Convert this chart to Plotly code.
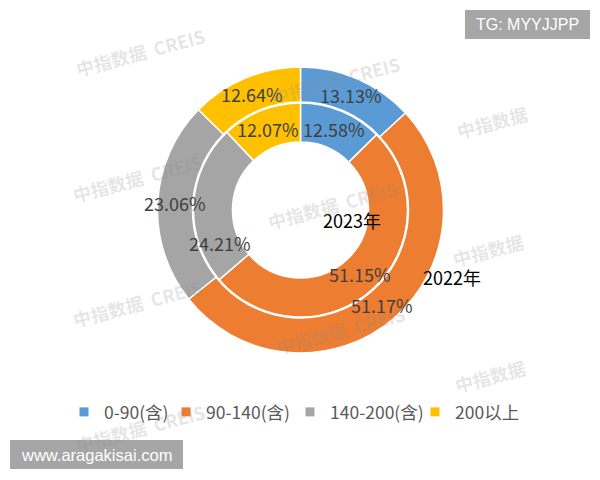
import numpy as np
import plotly.graph_objects as go

# ---------------- data ----------------
categories = ["0-90(含)", "90-140(含)", "140-200(含)", "200以上"]
values_2022 = [13.13, 51.17, 23.06, 12.64]   # outer ring
values_2023 = [12.58, 51.15, 24.21, 12.07]   # inner ring
series_names = ["2022年", "2023年"]
colors = ["#5B9BD5", "#ED7D31", "#A5A5A5", "#FFC000"]

# ---------------- layout geometry (pixels) ----------------
W, H = 600, 480
CX, CY = 300.5, 210.0
R_OUT, HOLE_OUT = 143.0, 108.0
R_IN, HOLE_IN = 107.0, 68.0


def px2paper(px, py):
    return px / W, 1 - py / H


def domain(r):
    cx, cy = px2paper(CX, CY)
    return dict(x=[cx - r / W, cx + r / W], y=[cy - r / H, cy + r / H])


fig = go.Figure()

for vals, r, hole, name in [(values_2022, R_OUT, HOLE_OUT, series_names[0]),
                            (values_2023, R_IN, HOLE_IN, series_names[1])]:
    fig.add_trace(go.Pie(
        labels=categories, values=vals, name=name,
        domain=domain(r), hole=hole / r,
        sort=False, direction="clockwise", rotation=0,
        marker=dict(colors=colors, line=dict(color="white", width=1.5)),
        textinfo="none", hoverinfo="label+value", showlegend=False,
    ))

# legend via dummy traces (square swatches)
legend_widths = [57, 79, 80, 70]
for cat, col, lw in zip(categories, colors, legend_widths):
    fig.add_trace(go.Scatter(
        x=[None], y=[None], mode="markers", name=cat,
        marker=dict(symbol="square", size=9, color=col),
        legendwidth=lw, showlegend=True, hoverinfo="skip",
    ))

CENTER = dict(xanchor="center", yanchor="middle", xref="paper", yref="paper",
              showarrow=False)

# percentage labels placed at slice centroids (computed from data)
label_angle_override = {(1, 2): 247.6}   # 24.21% label moved by hand in original
annotations = []
for ring, (vals, r0, r1) in enumerate([(values_2022, HOLE_OUT, R_OUT),
                                       (values_2023, HOLE_IN, R_IN)]):
    v = np.array(vals, dtype=float)
    frac = v / v.sum()
    ends = np.cumsum(frac) * 360
    starts = ends - frac * 360
    mids = (starts + ends) / 2
    rm = (r0 + r1) / 2
    for i, val in enumerate(vals):
        ang = label_angle_override.get((ring, i), mids[i])
        th = np.deg2rad(ang)
        px = CX + rm * np.sin(th)
        py = CY - rm * np.cos(th)
        x, y = px2paper(px, py)
        annotations.append(dict(
            x=x, y=y, text=f"{val:.2f}%",
            font=dict(family="Noto Sans CJK SC", size=18, color="#404040"),
            **CENTER))

# series name labels
for name, (px, py) in zip(series_names, [(452, 277), (352, 220)]):
    x, y = px2paper(px, py)
    annotations.append(dict(x=x, y=y, text=name,
                            font=dict(family="Noto Sans CJK SC", size=18, color="#000000"),
                            **CENTER))

# watermarks
wm_color = "rgba(140,140,140,0.22)"
wm_full = [(140, 52), (137, 178), (137, 303), (140, 428), (335, 80), (332, 205), (340, 330)]
wm_short = [(492, 122), (488, 250), (490, 376)]
for (px, py) in wm_full:
    x, y = px2paper(px, py)
    annotations.append(dict(x=x, y=y, text="<b>中指数据  CREIS</b>", textangle=-15,
                            font=dict(family="Noto Sans CJK SC", size=18, color=wm_color),
                            **CENTER))
for (px, py) in wm_short:
    x, y = px2paper(px, py)
    annotations.append(dict(x=x, y=y, text="<b>中指数据</b>", textangle=-15,
                            font=dict(family="Noto Sans CJK SC", size=18, color=wm_color),
                            **CENTER))

# corner boxes
shapes = []
for (x0, y0, x1, y1, txt, fs) in [(465, 10, 590, 39, "TG: MYYJJPP", 16),
                                   (10, 440, 183, 469, "www.aragakisai.com", 16.5)]:
    shapes.append(dict(type="rect", xref="paper", yref="paper",
                       x0=x0 / W, x1=x1 / W, y0=1 - y1 / H, y1=1 - y0 / H,
                       fillcolor="#A6A6A6", line=dict(width=0), layer="above"))
    annotations.append(dict(x=(x0 + x1) / 2 / W, y=1 - (y0 + y1) / 2 / H, text=txt,
                            font=dict(family="Liberation Sans", size=fs, color="white"),
                            **CENTER))

fig.update_layout(
    width=W, height=H,
    margin=dict(l=0, r=0, t=0, b=0),
    paper_bgcolor="white", plot_bgcolor="white",
    xaxis=dict(visible=False), yaxis=dict(visible=False),
    showlegend=True,
    legend=dict(orientation="h", x=64 / W, xanchor="left",
                y=1 - 412 / H, yanchor="middle",
                font=dict(family="Noto Sans CJK SC", size=17.5, color="#595959"),
                bgcolor="rgba(0,0,0,0)", itemclick=False),
    annotations=annotations,
    shapes=shapes,
)

fig.write_html("out.html", config={"displayModeBar": False},
               post_script="document.body.style.margin='0';")
